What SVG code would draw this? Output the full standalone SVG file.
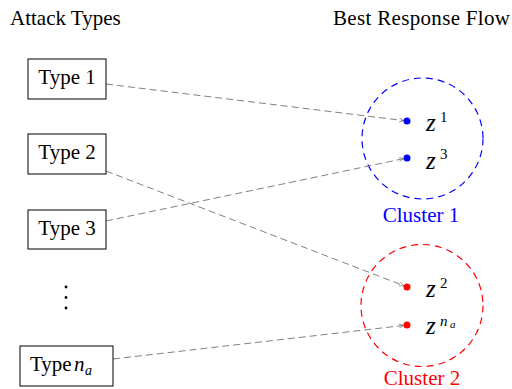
<svg xmlns="http://www.w3.org/2000/svg" width="512" height="389" viewBox="0 0 512 389">
<defs>
<style>
text{font-family:"Liberation Serif","Times New Roman",serif;font-size:21px;fill:#000}
.box{fill:#fff;stroke:#000;stroke-width:1}
.edge{fill:none;stroke:#808080;stroke-width:1;stroke-dasharray:7,4}
.m{font-style:italic;font-size:25px}
.sup{font-size:15px}
.it{font-style:italic}
.sub{font-style:italic;font-size:14px}
.cl1{fill:none;stroke:#0000ff;stroke-width:1.2;stroke-dasharray:7,5}
.cl2{fill:none;stroke:#ff0000;stroke-width:1.2;stroke-dasharray:7,5}
</style>
<marker id="arr" viewBox="0 0 10 10" refX="10" refY="5" markerWidth="5" markerHeight="5" orient="auto" markerUnits="userSpaceOnUse">
<path d="M0,1 L10,5 L0,9" fill="none" stroke="#808080" stroke-width="1.5"/>
</marker>
</defs>
<rect width="512" height="389" fill="#fff"/>
<g id="headers">
<text x="10" y="25">Attack Types</text>
<text x="333" y="25" textLength="177">Best Response Flow</text>
</g>
<g id="clusters">
<g id="cluster1">
<circle class="cl1" cx="422.5" cy="138.5" r="60.5"/>
<text x="421" y="222" text-anchor="middle" style="fill:#0000ff">Cluster 1</text>
</g>
<g id="cluster2">
<circle class="cl2" cx="422" cy="305.5" r="61"/>
<text x="422" y="385" text-anchor="middle" style="fill:#ff0000">Cluster 2</text>
</g>
</g>
<g id="connectors">
<line class="edge" x1="106" y1="84" x2="404" y2="120.6" marker-end="url(#arr)"/>
<line class="edge" x1="106" y1="171" x2="404" y2="285.8" marker-end="url(#arr)"/>
<line class="edge" x1="106" y1="221" x2="404" y2="158.6" marker-end="url(#arr)"/>
<line class="edge" x1="113" y1="359" x2="404" y2="325.4" marker-end="url(#arr)"/>
</g>
<g id="type1"><rect class="box" x="28" y="59" width="78" height="40"/><text x="67" y="84" text-anchor="middle">Type 1</text></g>
<g id="type2"><rect class="box" x="28" y="134" width="78" height="40"/><text x="67" y="159" text-anchor="middle">Type 2</text></g>
<g id="type3"><rect class="box" x="28" y="210" width="78" height="39"/><text x="67" y="235" text-anchor="middle">Type 3</text></g>
<g id="vdots" fill="#000"><circle cx="66" cy="287" r="1.4"/><circle cx="66" cy="297.5" r="1.4"/><circle cx="66" cy="308" r="1.4"/></g>
<g id="typena"><rect class="box" x="20" y="346" width="93" height="40"/><text x="30" y="371">Type</text><text x="74" y="371" class="it">n</text><text x="85" y="375" class="sub">a</text></g>
<g id="z1"><circle cx="407" cy="121" r="3.5" fill="#0000ff"/><text x="426" y="131" class="m">z</text><text x="440" y="122" class="sup">1</text></g>
<g id="z3"><circle cx="407" cy="158" r="3.5" fill="#0000ff"/><text x="426" y="169" class="m">z</text><text x="440" y="159" class="sup">3</text></g>
<g id="z2"><circle cx="407" cy="287" r="3.5" fill="#ff0000"/><text x="426" y="297" class="m">z</text><text x="440" y="288" class="sup">2</text></g>
<g id="zna"><circle cx="407" cy="325" r="3.5" fill="#ff0000"/><text x="426" y="334" class="m">z</text><text x="440" y="326" class="sup it">n</text><text x="450" y="328" class="sup it" style="font-size:11px">a</text></g>
</svg>
